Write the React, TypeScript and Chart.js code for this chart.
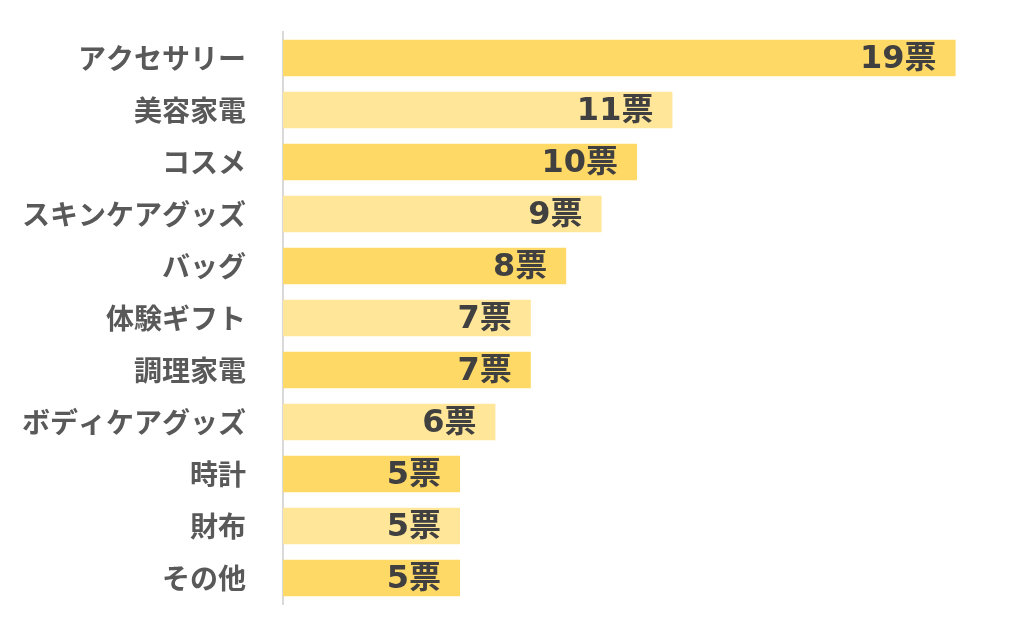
import React, { useEffect, useRef } from "react";
import { Chart, registerables } from "chart.js";

Chart.register(...registerables);

const categories = [
  "アクセサリー",
  "美容家電",
  "コスメ",
  "スキンケアグッズ",
  "バッグ",
  "体験ギフト",
  "調理家電",
  "ボディケアグッズ",
  "時計",
  "財布",
  "その他",
];
const votes = [19, 11, 10, 9, 8, 7, 7, 6, 5, 5, 5];
const unit = "票";
const darkColor = "#FFD966";
const lightColor = "#FFE699";

const valueLabels = {
  id: "valueLabels",
  afterDatasetsDraw(chart: any) {
    const ctx = chart.ctx;
    const meta = chart.getDatasetMeta(0);
    ctx.save();
    ctx.font = 'bold 32px "DejaVu Sans", "Noto Sans CJK JP", sans-serif';
    ctx.fillStyle = "#404040";
    ctx.textAlign = "right";
    ctx.textBaseline = "middle";
    meta.data.forEach((bar: any, i: number) => {
      ctx.fillText(String(votes[i]) + unit, bar.x - 19, bar.y + 2);
    });
    ctx.restore();
  },
};

export default function App() {
  const ref = useRef<HTMLCanvasElement | null>(null);
  useEffect(() => {
    if (!ref.current) return;
    const chart = new Chart(ref.current, {
      type: "bar",
      data: {
        labels: categories,
        datasets: [
          {
            data: votes,
            backgroundColor: votes.map((_, i) => (i % 2 === 0 ? darkColor : lightColor)),
            borderWidth: 0,
            categoryPercentage: 1,
            barPercentage: 0.7,
          },
        ],
      },
      options: {
        indexAxis: "y",
        animation: false,
        responsive: false,
        layout: { padding: { top: 32, bottom: 31, right: 33, left: 0 } },
        plugins: { legend: { display: false }, tooltip: { enabled: false } },
        scales: {
          x: {
            min: 0,
            max: 20,
            display: false,
          },
          y: {
            afterFit: (s: any) => {
              s.width = 283;
              s.paddingTop = 0;
              s.paddingBottom = 0;
            },
            grid: { display: false, drawTicks: false },
            border: { display: true, color: "#D9D9D9", width: 2 },
            ticks: {
              color: "#595959",
              padding: 37,
              font: { family: '"Noto Sans CJK JP", sans-serif', size: 28, weight: "bold" },
            },
          },
        },
      },
      plugins: [valueLabels],
    });
    return () => chart.destroy();
  }, []);
  return (
    <div style={{ position: "absolute", left: 0, top: 0, width: 1024, height: 635, background: "#fff" }}>
      <canvas ref={ref} width={1024} height={635} style={{ width: 1024, height: 635 }} />
    </div>
  );
}
